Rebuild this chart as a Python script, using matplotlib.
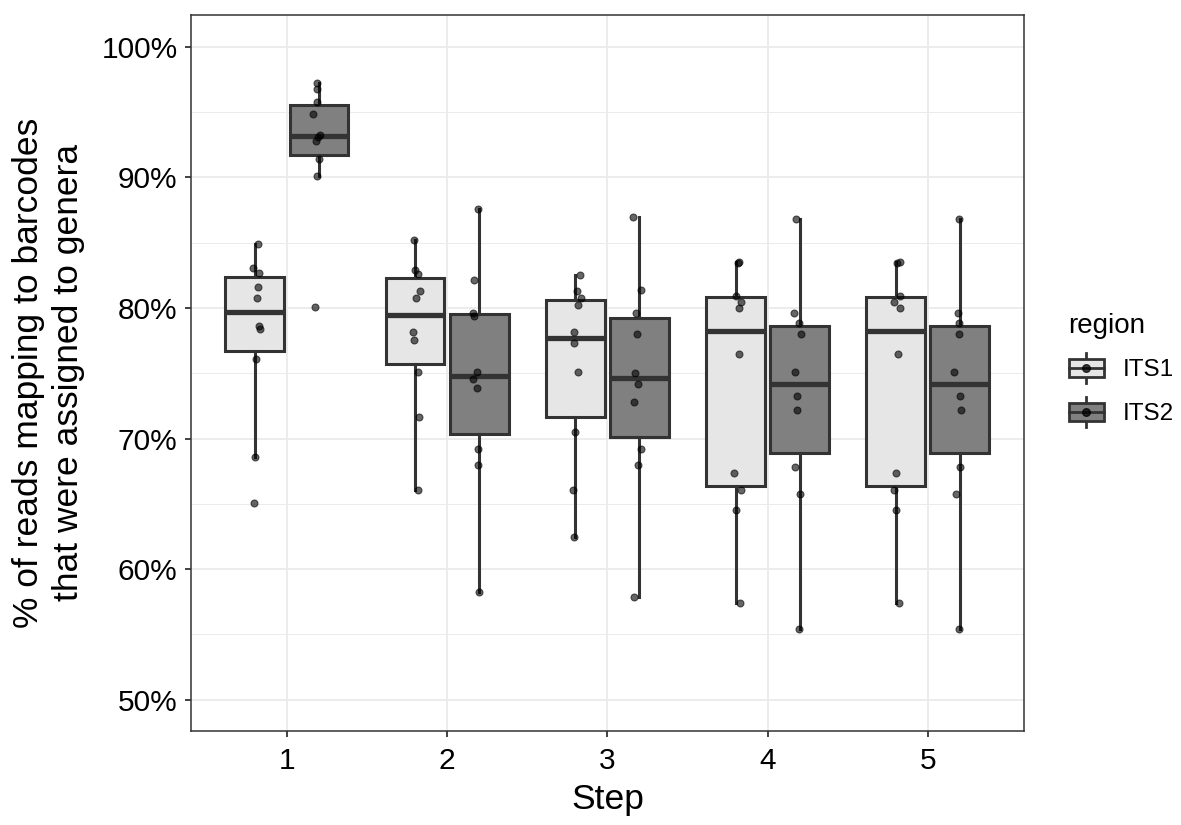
import matplotlib
matplotlib.use('Agg')
import matplotlib.pyplot as plt
from matplotlib.patches import Patch, Rectangle
from matplotlib.lines import Line2D
from matplotlib.legend_handler import HandlerBase

plt.rcParams['font.family'] = ['Liberation Sans', 'DejaVu Sans']

# Données (10 échantillons par groupe)
steps = [1, 2, 3, 4, 5]
regions = ['ITS1', 'ITS2']

its1_values = [
    [84.92, 83.05, 82.67, 81.60, 80.76, 78.64, 78.41, 76.10, 68.55, 65.03],
    [85.22, 82.87, 82.62, 81.29, 80.73, 78.15, 77.51, 75.11, 71.64, 66.08],
    [82.54, 81.29, 80.76, 80.22, 78.15, 77.31, 75.11, 70.50, 66.08, 62.46],
    [83.51, 83.43, 80.93, 80.45, 79.99, 76.44, 67.38, 66.03, 64.49, 57.37],
    [83.51, 83.43, 80.93, 80.45, 79.99, 76.44, 67.38, 66.03, 64.49, 57.37],
]
its2_values = [
    [97.22, 96.78, 95.74, 94.82, 93.21, 93.08, 92.75, 91.40, 90.10, 80.04],
    [87.57, 82.11, 79.60, 79.35, 75.06, 74.58, 73.87, 69.20, 67.99, 58.25],
    [86.93, 81.37, 79.58, 78.02, 75.04, 74.20, 72.82, 69.20, 67.99, 57.83],
    [86.81, 79.61, 78.84, 78.02, 75.06, 73.25, 72.15, 67.79, 65.75, 55.44],
    [86.81, 79.61, 78.84, 78.02, 75.06, 73.25, 72.15, 67.79, 65.75, 55.44],
]
# décalages horizontaux du jitter
its1_jitter = [
    [0.017, -0.012, 0.026, 0.019, 0.011, 0.023, 0.034, 0.007, 0.001, -0.006],
    [-0.008, 0.001, 0.017, 0.032, 0.007, -0.010, -0.006, 0.021, 0.027, 0.017],
    [0.027, 0.012, 0.035, 0.017, -0.006, -0.006, 0.019, -0.002, -0.012, -0.006],
    [0.024, 0.014, 0.006, 0.037, 0.020, 0.022, -0.007, 0.034, 0.003, 0.026],
    [0.024, 0.006, 0.028, -0.011, 0.024, 0.014, -0.001, -0.009, 0.003, 0.018],
]
its2_jitter = [
    [-0.011, -0.011, -0.013, -0.034, 0.007, -0.003, -0.019, -0.001, -0.013, -0.026],
    [-0.005, -0.030, -0.036, -0.032, -0.016, -0.038, -0.016, -0.005, -0.009, -0.003],
    [-0.037, 0.009, -0.022, -0.016, -0.026, -0.009, -0.031, 0.009, -0.006, -0.031],
    [-0.023, -0.037, -0.006, 0.006, -0.027, -0.014, -0.014, -0.027, 0.002, -0.002],
    [-0.006, -0.011, -0.008, -0.006, -0.035, 0.000, 0.006, 0.002, -0.023, -0.008],
]

y_ticks = [50, 60, 70, 80, 90, 100]
y_labels = ['50%', '60%', '70%', '80%', '90%', '100%']
y_minor = [55, 65, 75, 85, 95]

fills = {'ITS1': '#E6E6E6', 'ITS2': '#808080'}
edge = '#333333'


# Clé de légende façon ggplot (boîte + point)
class BoxKeyHandler(HandlerBase):
    def create_artists(self, legend, orig_handle, xdescent, ydescent,
                       width, height, fontsize, trans):
        cx = width / 2 - xdescent
        cy = height / 2 - ydescent
        bw = width * 0.95
        bh = height * 0.6
        whisk = Line2D([cx, cx], [cy - height * 0.48, cy + height * 0.48],
                       color=edge, lw=2.0, transform=trans)
        box = Rectangle((cx - bw / 2, cy - bh / 2), bw, bh,
                        facecolor=orig_handle.get_facecolor(), edgecolor=edge,
                        lw=2.0, transform=trans)
        med = Line2D([cx - bw / 2, cx + bw / 2], [cy, cy], color=edge,
                     lw=2.0, transform=trans)
        dot = Line2D([cx], [cy], marker='o', ms=5.5, color='black', alpha=0.75,
                     ls='none', transform=trans)
        return [whisk, box, med, dot]


fig = plt.figure(figsize=(11.81, 8.25), dpi=100)
ax = fig.add_axes([0.1615, 0.1143, 0.7055, 0.8679])

offset = 0.2
box_w = 0.367
for reg, vals, jit, sign in [('ITS1', its1_values, its1_jitter, -1),
                             ('ITS2', its2_values, its2_jitter, 1)]:
    pos = [s + sign * offset for s in steps]
    ax.boxplot(vals, positions=pos, widths=box_w, patch_artist=True,
               showcaps=False, showfliers=False, manage_ticks=False,
               boxprops=dict(facecolor=fills[reg], edgecolor=edge, lw=2.2),
               whiskerprops=dict(color=edge, lw=2.2),
               medianprops=dict(color=edge, lw=3.8, solid_capstyle='butt'),
               zorder=2)
    for p, v, j in zip(pos, vals, jit):
        ax.plot([p + d for d in j], v, 'o', ms=5.0, color='black',
                alpha=0.6, mec='black', mew=0.8, zorder=3)

ax.set_xlim(0.4, 5.6)
ax.set_ylim(47.63, 102.45)
ax.set_xticks(steps)
ax.set_xticklabels([str(s) for s in steps])
ax.set_yticks(y_ticks)
ax.set_yticklabels(y_labels)
ax.set_yticks(y_minor, minor=True)

ax.grid(True, which='major', color='#EBEBEB', lw=1.3, zorder=0)
ax.grid(True, which='minor', axis='y', color='#EBEBEB', lw=0.7, zorder=0)
ax.set_axisbelow(True)
for sp in ax.spines.values():
    sp.set_color(edge)
    sp.set_linewidth(1.1)

ax.tick_params(axis='both', which='major', length=4.5, width=1.3,
               color=edge, labelsize=21.5, labelcolor='black')
ax.tick_params(axis='x', pad=7)
ax.tick_params(axis='y', pad=5)
ax.tick_params(which='minor', length=0)

ax.set_xlabel('Step', fontsize=25.5, labelpad=6)
ax.set_ylabel('% of reads mapping to barcodes\nthat were assigned to genera',
              fontsize=25.5, labelpad=12, linespacing=1.25)

handles = [Patch(facecolor=fills[r], edgecolor=edge) for r in regions]
leg = fig.legend(handles, regions, title='region', loc='center left',
                 bbox_to_anchor=(1068 / 1181, 1 - 370 / 825),
                 frameon=False, fontsize=17.5, title_fontsize=20,
                 handler_map={Patch: BoxKeyHandler()},
                 handlelength=1.5, handleheight=1.6, labelspacing=0.52,
                 handletextpad=0.75, borderpad=0, borderaxespad=0,
                 alignment='left')
leg._legend_box.sep = 10

plt.savefig('out.png', dpi=100)
plt.close()
